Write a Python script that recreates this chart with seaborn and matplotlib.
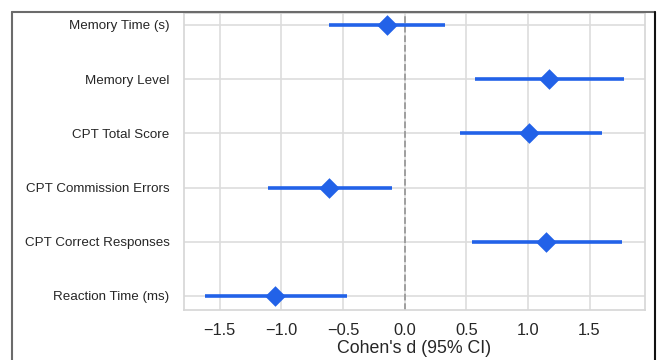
import matplotlib
matplotlib.use("Agg")
import matplotlib.pyplot as plt
from matplotlib.lines import Line2D
import seaborn as sns
import pandas as pd

measures = [
    "Memory Time (s)",
    "Memory Level",
    "CPT Total Score",
    "CPT Commission Errors",
    "CPT Correct Responses",
    "Reaction Time (ms)",
]
cohens_d = [-0.14, 1.17, 1.01, -0.61, 1.15, -1.05]
ci_low = [-0.61, 0.57, 0.45, -1.11, 0.55, -1.62]
ci_high = [0.33, 1.78, 1.60, -0.10, 1.76, -0.47]
x_ticks = [-1.5, -1.0, -0.5, 0.0, 0.5, 1.0, 1.5]

df = pd.DataFrame({"measure": measures, "d": cohens_d, "lo": ci_low, "hi": ci_high})
df["pos"] = range(len(df))

sns.set_theme(style="whitegrid")
plt.rcParams["font.family"] = ["Liberation Sans", "DejaVu Sans"]

blue = "#2262e8"
fig = plt.figure(figsize=(6.6, 3.6), dpi=100)
ax = fig.add_axes([184 / 660, 1 - 310 / 360, (645 - 184) / 660, (310 - 13) / 360])

ax.hlines(df["pos"], df["lo"], df["hi"], color=blue, linewidth=2.6, zorder=3)
sns.scatterplot(data=df, x="d", y="pos", marker="D", s=110, color=blue,
                edgecolor=blue, linewidth=0, zorder=4, ax=ax)
ax.axvline(0, color="#999999", linestyle="--", linewidth=1.3, zorder=2)

ax.set_yticks(df["pos"])
ax.set_yticklabels(df["measure"], fontsize=9.6, color="#262626")
ax.set_ylim(5.26, -0.22)
ax.set_xlim(-1.79, 1.95)
ax.set_xticks(x_ticks)
ax.set_xticklabels([f"{t:.1f}".replace("-", "\u2212") for t in x_ticks],
                   fontsize=11.8, color="#262626")
ax.tick_params(axis="y", pad=4.5)
ax.tick_params(axis="x", pad=3.5)
ax.set_xlabel("Cohen's d (95% CI)", fontsize=12.8, color="#262626", labelpad=1)
ax.set_ylabel("")
for s in ax.spines.values():
    s.set_color("#d6d6d6")
    s.set_linewidth(1.2)
ax.grid(True, color="#dddddd", linewidth=1.2)

# frame around the figure
fig.add_artist(Line2D([11.5 / 660, 655 / 660], [1 - 11.5 / 360, 1 - 11.5 / 360],
                      color="#6b6b6b", linewidth=1.5, transform=fig.transFigure))
fig.add_artist(Line2D([11.5 / 660, 11.5 / 660], [0, 1 - 11.5 / 360],
                      color="#6b6b6b", linewidth=1.5, transform=fig.transFigure))
fig.add_artist(Line2D([655 / 660, 655 / 660], [0, 1 - 11.5 / 360],
                      color="#111111", linewidth=1.5, transform=fig.transFigure))

fig.savefig("out.png", dpi=100)
